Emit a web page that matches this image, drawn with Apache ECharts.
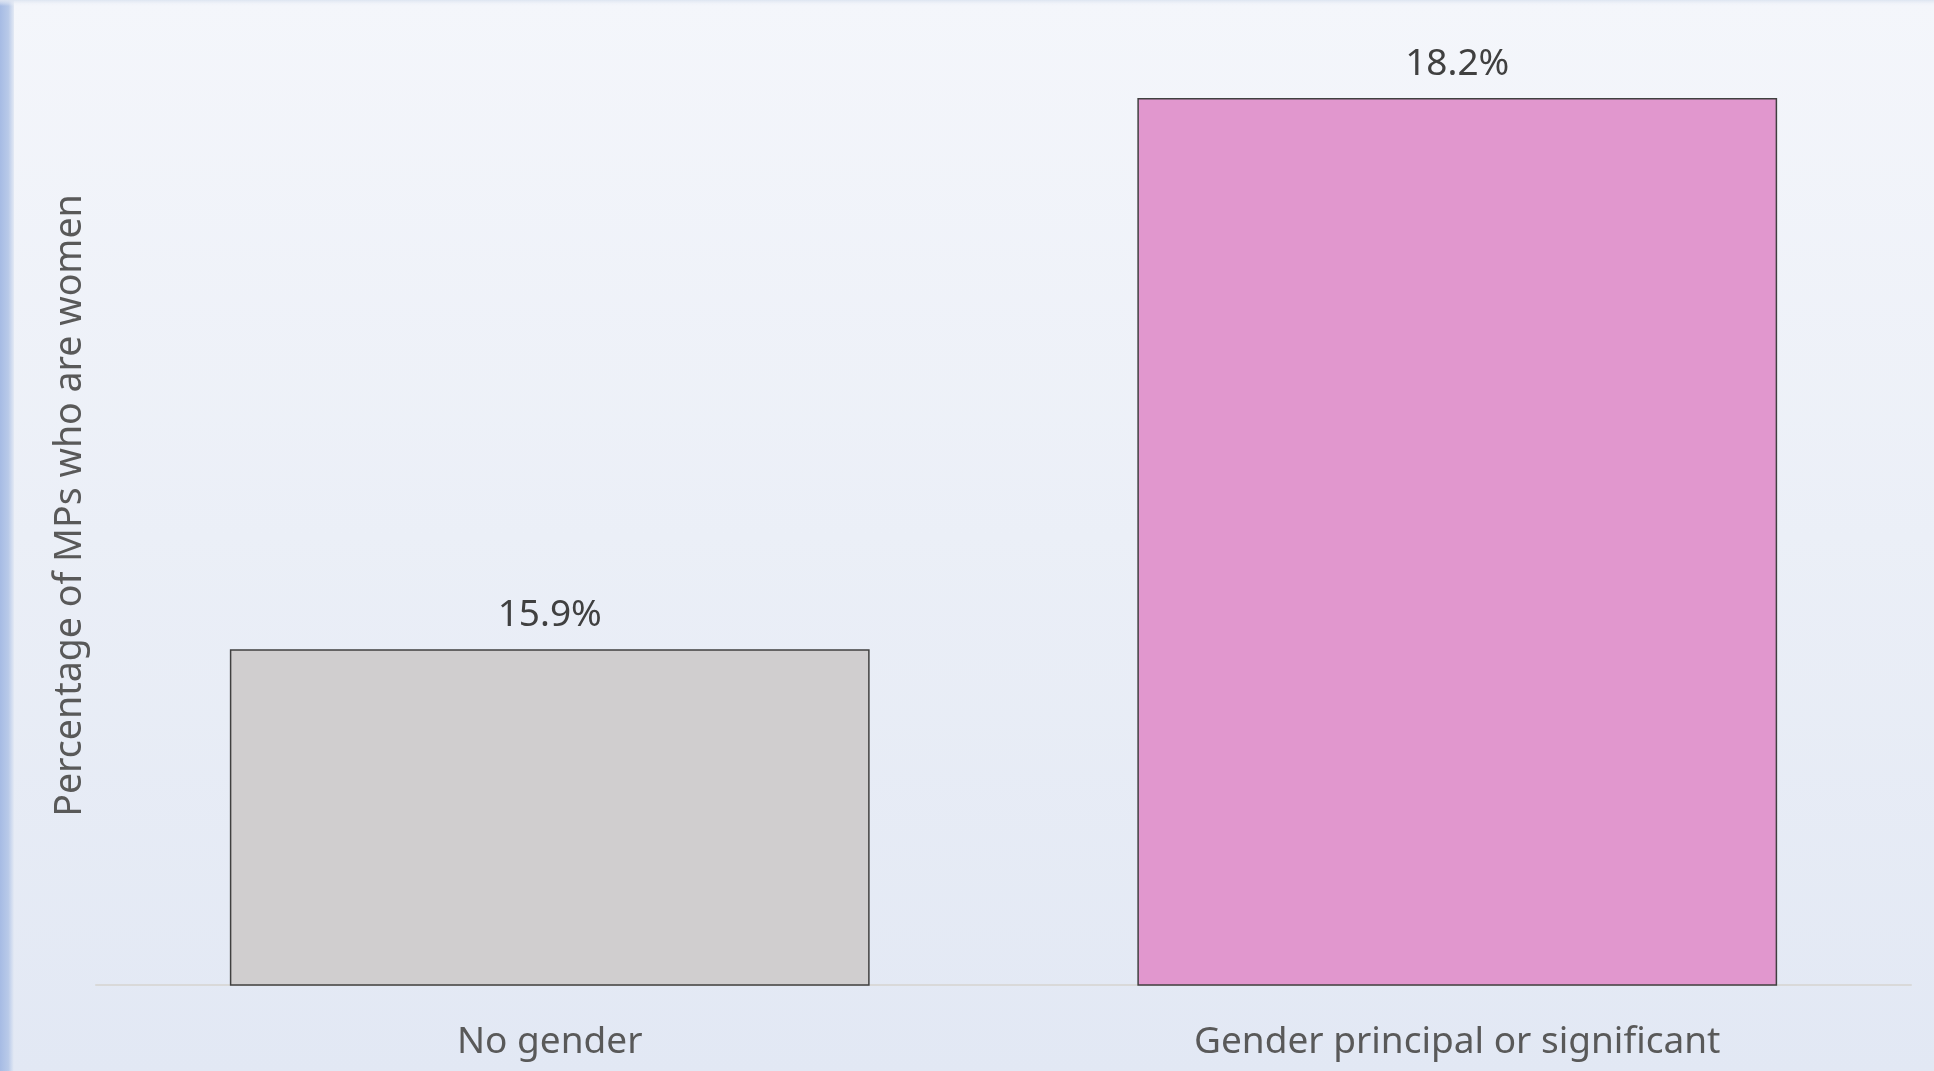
<!DOCTYPE html>
<html>
<head>
<meta charset="utf-8">
<script src="https://cdn.jsdelivr.net/npm/echarts@6/dist/echarts.min.js"></script>
<style>
  html, body { margin: 0; padding: 0; }
  #chart {
    width: 1934px;
    height: 1071px;
    background: linear-gradient(to bottom, #f4f6fb 0%, #ebeff7 50%, #e2e8f4 100%);
  }
</style>
</head>
<body>
<div id="chart"></div>
<script>
const categories = ["No gender", "Gender principal or significant"];
const values = [15.9, 18.2];
const barColors = ["#d0cecf", "#e197ce"];
const yAxisName = "Percentage of MPs who are women";

const chart = echarts.init(document.getElementById("chart"), null, { renderer: "canvas" });

const font = "'Noto Sans', 'Open Sans', sans-serif";

chart.setOption({
  backgroundColor: "transparent",
  animation: false,
  graphic: [
    {
      type: "rect",
      left: 0,
      top: 0,
      shape: { width: 14, height: 1071 },
      style: {
        fill: {
          type: "linear", x: 0, y: 0, x2: 1, y2: 0,
          colorStops: [
            { offset: 0, color: "#a6bbe4" },
            { offset: 0.6, color: "#b9cae9" },
            { offset: 1, color: "#e3e9f4" },
          ],
        },
      },
      silent: true,
    },
    {
      type: "rect",
      left: 0,
      top: 0,
      shape: { width: 1934, height: 6 },
      style: {
        fill: {
          type: "linear", x: 0, y: 0, x2: 0, y2: 1,
          colorStops: [
            { offset: 0, color: "#dde4f1" },
            { offset: 1, color: "rgba(243,245,250,0)" },
          ],
        },
      },
      silent: true,
    },
  ],
  grid: { left: 96, right: 23, top: 26, bottom: 86, containLabel: false },
  xAxis: {
    type: "category",
    data: categories,
    axisTick: { show: false },
    axisLine: { show: true, lineStyle: { color: "#d9d9d9", width: 2 } },
    axisLabel: {
      color: "#595959",
      fontFamily: font,
      fontSize: 37,
      margin: 39,
    },
  },
  yAxis: {
    type: "value",
    min: 14.5,
    max: 18.5,
    show: true,
    axisLine: { show: false },
    axisTick: { show: false },
    axisLabel: { show: false },
    splitLine: { show: false },
    name: yAxisName,
    nameLocation: "middle",
    nameGap: 7,
    nameTextStyle: {
      color: "#595959",
      fontFamily: font,
      fontSize: 37.5,
    },
  },
  series: [
    {
      type: "bar",
      barWidth: "70.5%",
      data: values.map((v, i) => ({
        value: v,
        itemStyle: { color: barColors[i] },
      })),
      itemStyle: { borderColor: "#404040", borderWidth: 1.5 },
      label: {
        show: true,
        position: "top",
        distance: 15,
        color: "#404040",
        fontFamily: font,
        fontSize: 37,
        formatter: (p) => p.value.toFixed(1) + "%",
      },
    },
  ],
});

window.addEventListener("resize", () => chart.resize());
</script>
</body>
</html>
